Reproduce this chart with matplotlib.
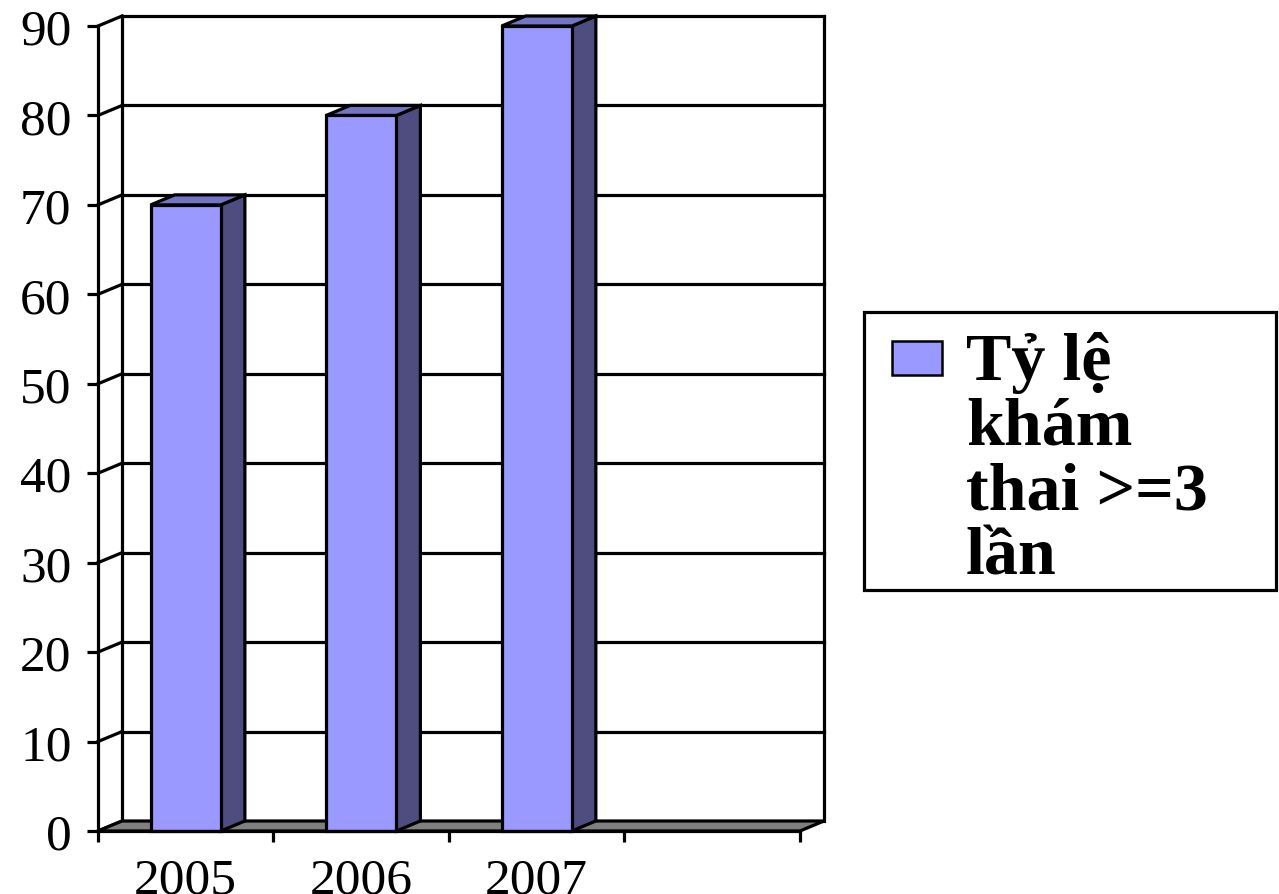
import matplotlib.pyplot as plt
from matplotlib.patches import Polygon, Rectangle

years = ['2005', '2006', '2007']
values = [70, 80, 90]
series_name = 'Tỷ lệ\nkhám\nthai >=3\nlần'
yticks = list(range(0, 100, 10))

n_slots = 4          # excel left an empty 4th category slot
dx, dy = 0.137, 1.12  # 3d depth offset in data units
bar_w = 0.4
ymax = 90

front_col = '#9999FF'
side_col = '#4D4D80'
top_col = '#7474C4'

plt.rcParams['font.family'] = ['Liberation Serif', 'DejaVu Serif']

W, H = 1279, 895
fig = plt.figure(figsize=(W / 100, H / 100), dpi=100)
ax = fig.add_axes([98 / W, 1 - 832 / H, (824 - 98) / W, (832 - 17) / H])
ax.set_xlim(0, n_slots + dx)
ax.set_ylim(0, ymax + dy)

lw = 2.3
# back wall
for v in yticks[1:]:
    ax.plot([dx, n_slots + dx], [v + dy, v + dy], color='k', lw=lw, zorder=1, clip_on=False)
ax.plot([dx, dx], [dy, ymax + dy], color='k', lw=lw, zorder=1, clip_on=False)
ax.plot([n_slots + dx, n_slots + dx], [dy, ymax + dy], color='k', lw=lw, zorder=1, clip_on=False)
# side wall diagonals
for v in yticks:
    ax.plot([0, dx], [v, v + dy], color='k', lw=lw, zorder=1, clip_on=False)

# floor
ax.add_patch(Polygon([(0, 0), (n_slots, 0), (n_slots + dx, dy), (dx, dy)],
                     closed=True, facecolor='#808080', edgecolor='k', lw=lw, zorder=2, clip_on=False))

# 3d bars
for i, v in enumerate(values):
    x0 = i + 0.5 - bar_w / 2
    x1 = x0 + bar_w
    ax.add_patch(Polygon([(x1, 0), (x1 + dx, dy), (x1 + dx, v + dy), (x1, v)],
                         closed=True, facecolor=side_col, edgecolor='k', lw=lw, zorder=3, clip_on=False))
    ax.add_patch(Polygon([(x0, v), (x1, v), (x1 + dx, v + dy), (x0 + dx, v + dy)],
                         closed=True, facecolor=top_col, edgecolor='k', lw=lw, zorder=3, clip_on=False))
    ax.add_patch(Rectangle((x0, 0), bar_w, v, facecolor=front_col, edgecolor='k',
                           lw=lw, zorder=4, clip_on=False))

# axes
ax.spines['top'].set_visible(False)
ax.spines['right'].set_visible(False)
ax.spines['left'].set_bounds(0, ymax)
ax.spines['bottom'].set_bounds(0, n_slots)
ax.spines['left'].set_linewidth(lw)
ax.spines['bottom'].set_linewidth(lw)
ax.spines['left'].set_zorder(5)
ax.spines['bottom'].set_zorder(5)

ax.set_yticks(yticks)
ax.set_yticklabels([str(t) for t in yticks])
ax.tick_params(axis='y', direction='out', length=8, width=lw, pad=11, labelsize=37)

ax.set_xticks(range(n_slots + 1))
ax.set_xticklabels([])
ax.set_xticks([i + 0.5 for i in range(len(years))], minor=True)
ax.set_xticklabels(years, minor=True)
ax.tick_params(axis='x', which='major', direction='out', length=8, width=lw)
ax.tick_params(axis='x', which='minor', length=0, pad=19, labelsize=37)

# legend box
fig.patches.append(Rectangle((864 / W, 1 - 591 / H), 412 / W, 278 / H, transform=fig.transFigure,
                             facecolor='white', edgecolor='k', lw=lw))
fig.patches.append(Rectangle((892 / W, 1 - 376 / H), 50 / W, 34 / H, transform=fig.transFigure,
                             facecolor=front_col, edgecolor='k', lw=1.8))
fig.text(966 / W, 1 - 332 / H, series_name, fontsize=49, fontweight='bold',
         va='top', ha='left', linespacing=1.08)

fig.savefig('out.png', dpi=100)
